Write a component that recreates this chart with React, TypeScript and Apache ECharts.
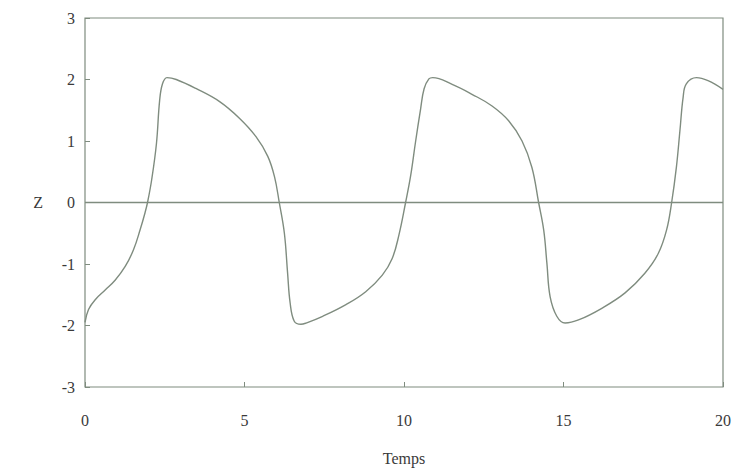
import React, { useEffect, useRef } from "react";
import * as echarts from "echarts";

const timeValues = [
  0, 0.11, 0.32, 0.64, 0.95, 1.26, 1.52, 1.73, 1.88, 1.96, 2.09, 2.24, 2.34, 2.43,
  2.57, 2.86, 3.49, 4.22, 4.84, 5.36, 5.73, 5.94, 6.09, 6.25, 6.35, 6.43, 6.56,
  6.77, 6.93, 7.45, 8.18, 8.8, 9.32, 9.63, 9.84, 10.05, 10.21, 10.36, 10.52,
  10.63, 10.78, 10.9, 11.51, 12.13, 12.76, 13.28, 13.7, 14.01, 14.22, 14.38,
  14.48, 14.58, 14.79, 15.05, 15.47, 16.2, 16.93, 17.55, 17.97, 18.23, 18.39,
  18.54, 18.65, 18.75, 18.85, 19.17, 19.53, 20.0,
];
const zValues = [
  -1.95, -1.74, -1.58, -1.42, -1.26, -1.04, -0.77, -0.44, -0.17, 0, 0.37, 0.96,
  1.66, 1.93, 2.03, 2.0, 1.85, 1.64, 1.37, 1.07, 0.75, 0.42, 0, -0.5, -1.14,
  -1.63, -1.93, -1.98, -1.96, -1.85, -1.66, -1.45, -1.18, -0.91, -0.53, 0, 0.44,
  0.98, 1.52, 1.85, 2.01, 2.03, 1.92, 1.76, 1.57, 1.33, 1.0, 0.57, 0, -0.45,
  -0.99, -1.53, -1.85, -1.96, -1.91, -1.72, -1.47, -1.15, -0.83, -0.45, 0, 0.58,
  1.17, 1.71, 1.93, 2.03, 1.98, 1.84,
];
const xTicks = [0, 5, 10, 15, 20];
const yTicks = [-3, -2, -1, 0, 1, 2, 3];
const xName = "Temps";
const yName = "Z";

export default function App() {
  const ref = useRef<HTMLDivElement>(null);
  useEffect(() => {
    if (!ref.current) return;
    const chart = echarts.init(ref.current, null, { renderer: "svg" });
    const lineColor = "#7f8c7f";
    const textColor = "#3a3a3a";
    const font = "'Liberation Serif', 'DejaVu Serif', serif";
    chart.setOption({
      animation: false,
      backgroundColor: "#fff",
      grid: {
        left: 85,
        top: 18,
        right: 7,
        bottom: 85,
        show: true,
        borderColor: lineColor,
        borderWidth: 1.2,
      },
      xAxis: {
        type: "value",
        min: xTicks[0],
        max: xTicks[xTicks.length - 1],
        interval: 5,
        name: xName,
        nameLocation: "middle",
        nameGap: 63,
        nameTextStyle: { fontFamily: font, fontSize: 16, color: textColor },
        axisLine: { show: false, onZero: false },
        axisTick: { show: true, inside: true, length: 5, lineStyle: { color: lineColor } },
        splitLine: { show: false },
        axisLabel: { margin: 25, fontFamily: font, fontSize: 16, color: textColor },
      },
      yAxis: {
        type: "value",
        min: yTicks[0],
        max: yTicks[yTicks.length - 1],
        interval: 1,
        name: yName,
        nameLocation: "middle",
        nameRotate: 0,
        nameGap: 42,
        nameTextStyle: { fontFamily: font, fontSize: 16, color: textColor, padding: [18, 0, 0, 0] },
        axisLine: { show: false, onZero: false },
        axisTick: { show: true, inside: true, length: 5, lineStyle: { color: lineColor } },
        splitLine: { show: false },
        axisLabel: { margin: 10, fontFamily: font, fontSize: 16, color: textColor },
      },
      series: [
        {
          type: "line",
          data: timeValues.map((t, i) => [t, zValues[i]]),
          showSymbol: false,
          smooth: 0.4,
          lineStyle: { color: lineColor, width: 1.4 },
          markLine: {
            silent: true,
            symbol: ["none", "none"],
            label: { show: false },
            lineStyle: { color: lineColor, width: 1.4, type: "solid" },
            data: [{ yAxis: 0 }],
          },
        },
      ],
    });
    return () => chart.dispose();
  }, []);
  return <div ref={ref} style={{ width: 734, height: 472, position: "absolute", left: 0, top: 0 }} />;
}
